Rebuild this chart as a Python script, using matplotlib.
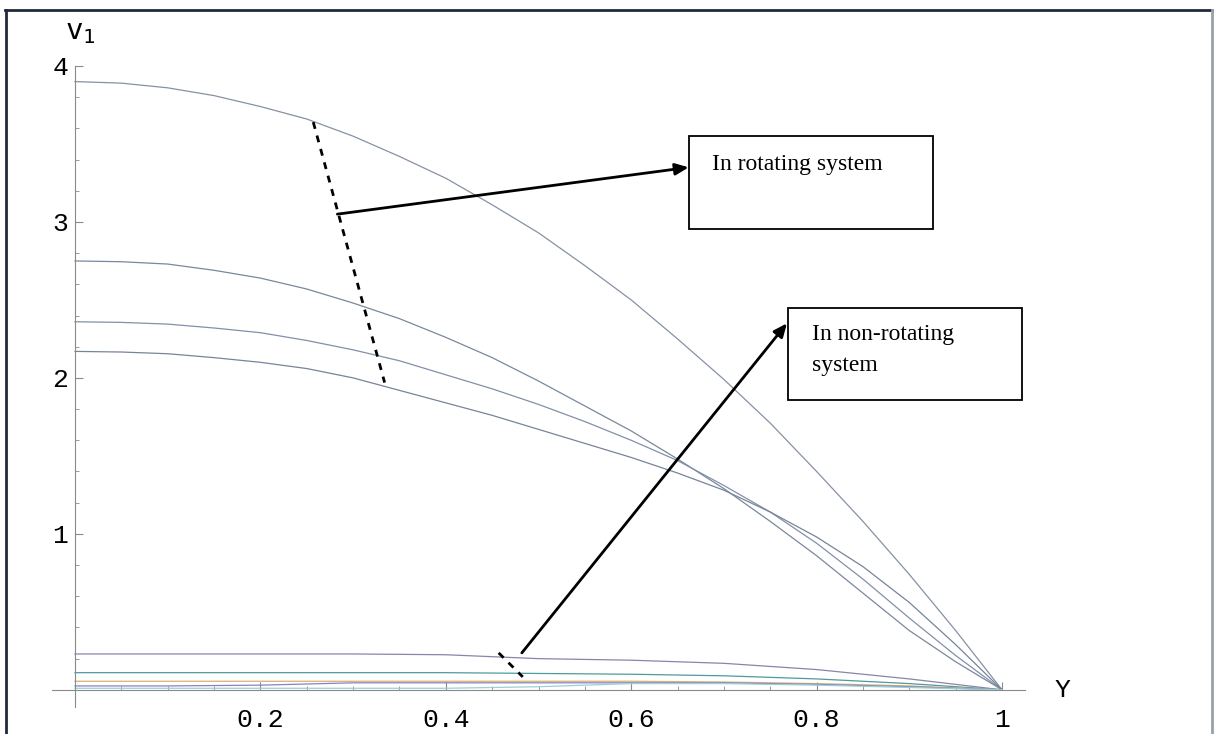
import matplotlib
matplotlib.use("Agg")
import matplotlib.pyplot as plt
from matplotlib.lines import Line2D
from matplotlib.patches import Rectangle

# Data
y_fine = [0.0, 0.05, 0.1, 0.15, 0.2, 0.25, 0.3, 0.35, 0.4, 0.45, 0.5,
          0.55, 0.6, 0.65, 0.7, 0.75, 0.8, 0.85, 0.9, 0.95, 1.0]

# rotating system (upper family)
v_rot = [
    [3.90, 3.89, 3.86, 3.81, 3.74, 3.66, 3.55, 3.42, 3.28, 3.11, 2.93,
     2.72, 2.50, 2.25, 1.99, 1.71, 1.40, 1.08, 0.74, 0.38, 0.0],
    [2.75, 2.745, 2.73, 2.69, 2.64, 2.57, 2.48, 2.38, 2.26, 2.13, 1.98,
     1.82, 1.66, 1.48, 1.29, 1.08, 0.86, 0.62, 0.38, 0.18, 0.0],
    [2.36, 2.356, 2.345, 2.32, 2.29, 2.24, 2.18, 2.11, 2.02, 1.93, 1.83,
     1.72, 1.60, 1.47, 1.31, 1.14, 0.94, 0.71, 0.46, 0.22, 0.0],
    [2.17, 2.166, 2.155, 2.13, 2.10, 2.06, 2.00, 1.92, 1.84, 1.76, 1.67,
     1.58, 1.49, 1.39, 1.28, 1.14, 0.98, 0.79, 0.56, 0.29, 0.0],
]
rot_colors = ["#8592a4", "#7a889c", "#8290a8", "#77849a"]

# non-rotating system (lower family)
y_pos = [0.0, 0.1, 0.2, 0.3, 0.4, 0.5, 0.6, 0.7, 0.8, 0.9, 1.0]
v_nonrot = [
    [0.23, 0.23, 0.23, 0.23, 0.225, 0.20, 0.19, 0.17, 0.13, 0.07, 0.0],
    [0.11, 0.11, 0.11, 0.11, 0.11, 0.105, 0.10, 0.09, 0.07, 0.04, 0.0],
    [0.055, 0.055, 0.055, 0.055, 0.055, 0.055, 0.055, 0.05, 0.04, 0.025, 0.0],
    [0.025, 0.025, 0.03, 0.045, 0.045, 0.045, 0.045, 0.045, 0.035, 0.02, 0.0],
    [0.01, 0.01, 0.01, 0.01, 0.01, 0.02, 0.04, 0.04, 0.03, 0.015, 0.0],
]
nonrot_colors = ["#8a84a8", "#4f9a9a", "#d8b070", "#8a80c0", "#9ad0d8"]

x_ticks = [0.2, 0.4, 0.6, 0.8, 1.0]
x_ticklabels = ["0.2", "0.4", "0.6", "0.8", "1"]
y_ticks = [1, 2, 3, 4]
y_ticklabels = ["1", "2", "3", "4"]

mono = ["Liberation Mono", "DejaVu Sans Mono"]
serif = "Liberation Serif"

fig = plt.figure(figsize=(12.17, 7.34), dpi=100)
ax = fig.add_axes([0.0426, 0.0368, 0.7998, 0.8733])

for vals, c in zip(v_rot, rot_colors):
    ax.plot(y_fine, vals, color=c, lw=0.9)
for vals, c in zip(v_nonrot, nonrot_colors):
    ax.plot(y_pos, vals, color=c, lw=0.9)

ax.set_xlim(-0.025, 1.025)
ax.set_ylim(-0.11, 4.0)

# Mathematica style axes through the origin
for s in ["top", "right"]:
    ax.spines[s].set_visible(False)
ax.spines["left"].set_position(("data", 0))
ax.spines["bottom"].set_position(("data", 0))
for s in ["left", "bottom"]:
    ax.spines[s].set_color("#8a8a8a")
    ax.spines[s].set_linewidth(0.8)

ax.set_xticks(x_ticks)
ax.set_xticklabels(x_ticklabels, family=mono, fontsize=19)
ax.set_yticks(y_ticks)
ax.set_yticklabels(y_ticklabels, family=mono, fontsize=19)
ax.set_xticks([i * 0.05 for i in range(1, 21) if i % 4 != 0], minor=True)
ax.set_yticks([i * 0.2 for i in range(1, 20) if i % 5 != 0], minor=True)
ax.tick_params(which="major", direction="in", length=6, width=0.8, color="#8a8a8a")
ax.tick_params(which="minor", direction="in", length=3, width=0.6, color="#8a8a8a")
ax.tick_params(axis="x", which="major", pad=13)
ax.tick_params(axis="y", which="major", pad=5)

ax.text(0.006, 4.22, r"$\mathtt{v}_\mathtt{1}$", fontsize=21, ha="center", va="center")
ax.text(1.065, 0.0, "Y", family=mono, fontsize=19, ha="center", va="center")

# dashed markers across each family
ax.add_line(Line2D([0.257, 0.334], [3.64, 1.97], color="black", lw=2, ls=(0, (2.5, 2.5))))
ax.add_line(Line2D([0.457, 0.483], [0.237, 0.083], color="black", lw=2, ls=(0, (2.5, 2.5))))

# boxes with labels
ax.add_patch(Rectangle((0.662, 2.955), 0.264, 0.595, fill=False, ec="black", lw=1.3,
                       clip_on=False))
ax.text(0.687, 3.37, "In rotating system", family=serif, fontsize=17, va="center")
ax.add_patch(Rectangle((0.769, 1.86), 0.253, 0.59, fill=False, ec="black", lw=1.3,
                       clip_on=False))
ax.text(0.795, 2.18, "In non-rotating\nsystem", family=serif, fontsize=17, va="center",
        linespacing=1.6)

ax.annotate("", xy=(0.662, 3.35), xytext=(0.283, 3.05),
            arrowprops=dict(arrowstyle="-|>,head_length=0.8,head_width=0.35",
                            color="black", lw=2, shrinkA=0, shrinkB=0))
ax.annotate("", xy=(0.768, 2.35), xytext=(0.482, 0.237),
            arrowprops=dict(arrowstyle="-|>,head_length=0.8,head_width=0.35",
                            color="black", lw=2, shrinkA=0, shrinkB=0))

# page frame
fig.add_artist(Line2D([0.004, 0.996], [0.986, 0.986], color="#1f2a3a", lw=2))
fig.add_artist(Line2D([0.005, 0.005], [0.0, 0.986], color="#1f2a3a", lw=2))
fig.add_artist(Line2D([0.996, 0.996], [0.0, 0.986], color="#9aa0a8", lw=2))

fig.savefig("out.png", dpi=100)
